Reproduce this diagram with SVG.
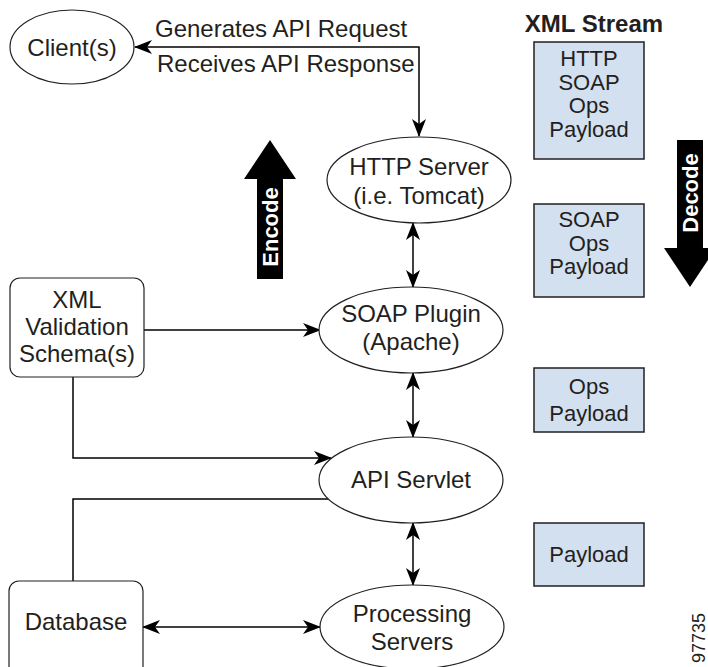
<svg xmlns="http://www.w3.org/2000/svg" width="708" height="667" viewBox="0 0 708 667">
<style>
text{font-family:"Liberation Sans",Arial,Helvetica,sans-serif;fill:#231f20}
.n{font-size:24px;text-anchor:middle}
.b{font-size:22px;text-anchor:middle}
.lbl{font-size:24px}
.shape{fill:#fff;stroke:#231f20;stroke-width:1.2}
.box{fill:#d3e0f0;stroke:#231f20;stroke-width:1.5}
.c{fill:none;stroke:#000;stroke-width:1.5}
.big{fill:#000}
.wt{font-size:22px;font-weight:bold;fill:#fff;text-anchor:middle}
</style>
<defs>
<marker id="ah" viewBox="0 0 18 14" refX="17" refY="7" markerWidth="18" markerHeight="14" markerUnits="userSpaceOnUse" orient="auto-start-reverse">
<path d="M0,0 L18,7 L0,14 L5,7 z" fill="#000"/>
</marker>
</defs>
<g id="connectors">
<path class="c" d="M419,136 V47 H135" marker-start="url(#ah)" marker-end="url(#ah)"/>
<path class="c" d="M413,223 V287" marker-start="url(#ah)" marker-end="url(#ah)"/>
<path class="c" d="M144,330 H320" marker-end="url(#ah)"/>
<path class="c" d="M73,377 V458 H331" marker-end="url(#ah)"/>
<path class="c" d="M413,373 V437" marker-start="url(#ah)" marker-end="url(#ah)"/>
<path class="c" d="M73,581 V499 H329"/>
<path class="c" d="M413,523 V585" marker-start="url(#ah)" marker-end="url(#ah)"/>
<path class="c" d="M143,627 H320" marker-start="url(#ah)" marker-end="url(#ah)"/>
</g>
<g id="labels">
<text class="lbl" x="155" y="37">Generates API Request</text>
<text class="lbl" x="157" y="72">Receives API Response</text>
</g>
<g id="client">
<ellipse class="shape" cx="72" cy="47" rx="62" ry="37"/>
<text class="n" x="72" y="56">Client(s)</text>
</g>
<g id="http">
<ellipse class="shape" cx="419" cy="180" rx="92" ry="43"/>
<text class="n" x="419" y="175">HTTP Server</text>
<text class="n" x="419" y="204">(i.e. Tomcat)</text>
</g>
<g id="soap">
<ellipse class="shape" cx="411" cy="330" rx="92" ry="43"/>
<text class="n" x="411" y="322">SOAP Plugin</text>
<text class="n" x="411" y="350">(Apache)</text>
</g>
<g id="api">
<ellipse class="shape" cx="411" cy="480" rx="92" ry="43"/>
<text class="n" x="411" y="488">API Servlet</text>
</g>
<g id="processing">
<ellipse class="shape" cx="412" cy="627" rx="92" ry="42"/>
<text class="n" x="412" y="622">Processing</text>
<text class="n" x="412" y="650">Servers</text>
</g>
<g id="schema">
<rect class="shape" x="10" y="278" width="134" height="99" rx="10"/>
<text class="n" x="77" y="308">XML</text>
<text class="n" x="77" y="335">Validation</text>
<text class="n" x="77" y="362">Schema(s)</text>
</g>
<g id="database">
<rect class="shape" x="9" y="581" width="134" height="100" rx="10"/>
<text class="n" x="76" y="630">Database</text>
</g>
<g id="encode">
<polygon class="big" points="257,279 257,179 244,179 270,140 296,179 283,179 283,279"/>
<text class="wt" transform="translate(278,227) rotate(-90)">Encode</text>
</g>
<g id="decode">
<polygon class="big" points="677,140 703,140 703,248 716,248 690,287 664,248 677,248"/>
<text class="wt" transform="translate(698,193) rotate(-90)">Decode</text>
</g>
<g id="stream">
<text x="594" y="32" style="font-size:24px;font-weight:bold;text-anchor:middle">XML Stream</text>
<rect class="box" x="534" y="42" width="110" height="117"/>
<text class="b" x="589" y="66">HTTP</text>
<text class="b" x="589" y="90">SOAP</text>
<text class="b" x="589" y="113">Ops</text>
<text class="b" x="589" y="137">Payload</text>
<rect class="box" x="534" y="204" width="110" height="93"/>
<text class="b" x="589" y="227">SOAP</text>
<text class="b" x="589" y="251">Ops</text>
<text class="b" x="589" y="274">Payload</text>
<rect class="box" x="534" y="368" width="110" height="64"/>
<text class="b" x="589" y="394">Ops</text>
<text class="b" x="589" y="421">Payload</text>
<rect class="box" x="534" y="523" width="110" height="63"/>
<text class="b" x="589" y="562">Payload</text>
</g>
<text transform="translate(705,663) rotate(-90)" style="font-size:18px">97735</text>
</svg>
